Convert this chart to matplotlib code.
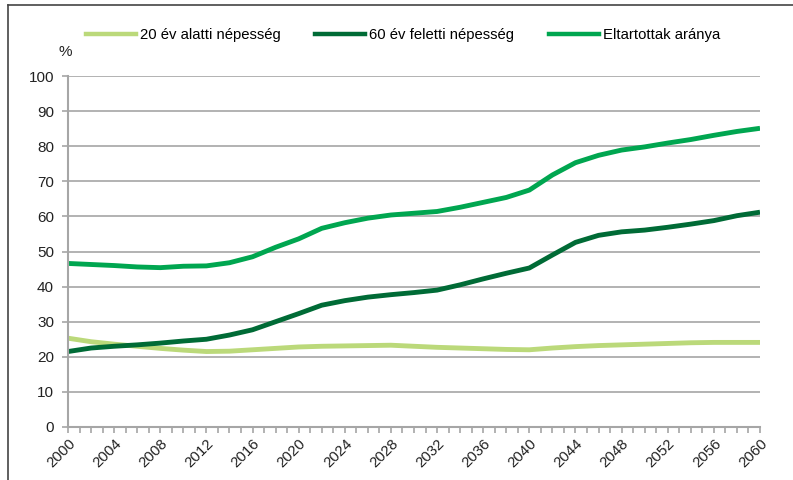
import matplotlib
matplotlib.use('Agg')
import matplotlib.pyplot as plt
from matplotlib.lines import Line2D
from matplotlib.ticker import MultipleLocator

years = list(range(2000, 2061, 2))

# 20 év alatti népesség
under20 = [25.3, 24.3, 23.6, 23.0, 22.4, 21.9, 21.5, 21.6, 22.0, 22.4,
           22.8, 23.0, 23.1, 23.2, 23.3, 23.0, 22.7, 22.5, 22.3, 22.1,
           22.0, 22.5, 22.9, 23.2, 23.4, 23.6, 23.8, 24.0, 24.1, 24.1, 24.1]
# 60 év feletti népesség
over60 = [21.5, 22.5, 23.0, 23.4, 23.9, 24.5, 25.0, 26.2, 27.7, 30.0,
          32.3, 34.7, 36.0, 37.0, 37.7, 38.3, 39.0, 40.5, 42.2, 43.8,
          45.3, 49.0, 52.6, 54.6, 55.6, 56.1, 56.9, 57.8, 58.8, 60.2, 61.2]
# Eltartottak aránya
dependency = [46.6, 46.3, 46.0, 45.6, 45.4, 45.8, 45.9, 46.8, 48.5, 51.2,
              53.6, 56.6, 58.2, 59.5, 60.4, 60.9, 61.4, 62.6, 64.0, 65.4,
              67.5, 71.8, 75.3, 77.4, 78.9, 79.8, 80.9, 81.9, 83.1, 84.2, 85.1]

labels = ['20 év alatti népesség', '60 év feletti népesség', 'Eltartottak aránya']
colors = ['#BBD97A', '#006B36', '#00A650']

plt.rcParams['font.family'] = ['Liberation Sans', 'DejaVu Sans']

fig = plt.figure(figsize=(7.93, 4.8), dpi=100)
ax = fig.add_axes((68/793, 53/480, 692/793, 351/480))

grid_c = '#A6A6A6'
for v in range(10, 101, 10):
    ax.axhline(v, color=grid_c, lw=1.2, zorder=0)

ax.plot(years, under20, color=colors[0], lw=3.5, solid_capstyle='butt', label=labels[0])
ax.plot(years, over60, color=colors[1], lw=3.5, solid_capstyle='butt', label=labels[1])
ax.plot(years, dependency, color=colors[2], lw=3.5, solid_capstyle='butt', label=labels[2])

ax.set_xlim(2000, 2060)
ax.set_ylim(0, 100)
ax.yaxis.set_major_locator(MultipleLocator(10))
ax.xaxis.set_major_locator(MultipleLocator(4))
ax.xaxis.set_minor_locator(MultipleLocator(1))

for s in ['top', 'right']:
    ax.spines[s].set_visible(False)
for s in ['left', 'bottom']:
    ax.spines[s].set_color(grid_c)
    ax.spines[s].set_linewidth(1.5)

ax.tick_params(axis='y', length=4, width=1.2, color=grid_c, labelsize=11, pad=6, labelcolor='#222222')
ax.tick_params(axis='x', which='both', length=4, width=1.2, color=grid_c, labelsize=10.8, pad=3, labelcolor='#222222')
for lab in ax.get_xticklabels():
    lab.set_rotation(45)
    lab.set_ha('right')
    lab.set_rotation_mode('anchor')

fig.text(65/793, 1 - 52/480, '%', fontsize=11, ha='center', va='center', color='#222222')

handles = [Line2D([0], [0], color=c, lw=3.2) for c in colors]
fig.legend(handles, labels, loc='center left', bbox_to_anchor=(86/793, 1 - 35/480),
           ncol=3, frameon=False, handlelength=3.35, handletextpad=0.27,
           columnspacing=2.35, borderaxespad=0, borderpad=0,
           prop={'size': 10.7})

# outer frame
fig.add_artist(Line2D([8/793, 8/793], [0, 1 - 5/480], color='#444444', lw=1.2, transform=fig.transFigure))
fig.add_artist(Line2D([8/793, 1], [1 - 5/480, 1 - 5/480], color='#444444', lw=1.2, transform=fig.transFigure))

fig.savefig('out.png', dpi=100)
